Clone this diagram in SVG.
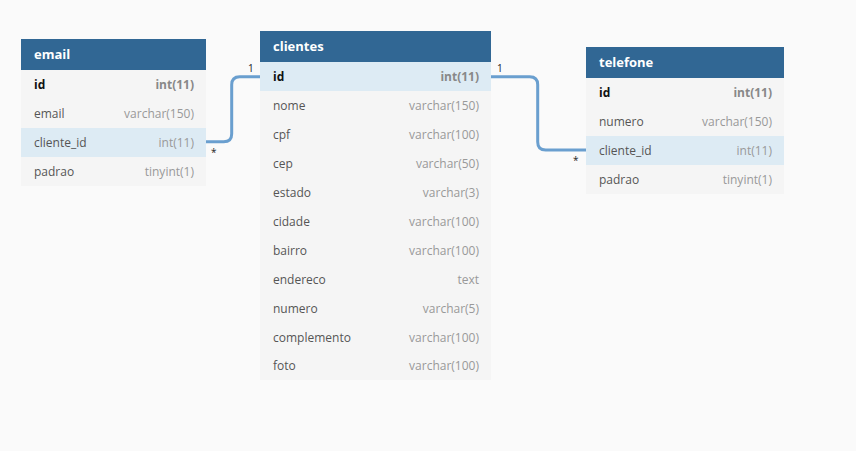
<svg xmlns="http://www.w3.org/2000/svg" width="856" height="451" viewBox="0 0 856 451">
<style>
.hdr{fill:#316794}
.row{fill:#f5f5f5}
.alt{fill:#f7f7f7}
.hl{fill:#ddebf4}
.title{font-family:"Open Sans","Noto Sans",sans-serif;font-size:13px;font-weight:bold;fill:#ffffff}
.f{font-family:"Open Sans","Noto Sans",sans-serif;font-size:12px;fill:#555555}
.fk{font-family:"Open Sans","Noto Sans",sans-serif;font-size:12px;font-weight:bold;fill:#111111}
.t{font-family:"Open Sans","Noto Sans",sans-serif;font-size:12px;fill:#999999;text-anchor:end}
.tk{font-family:"Open Sans","Noto Sans",sans-serif;font-size:12px;font-weight:bold;fill:#888888;text-anchor:end}
.conn{fill:none;stroke:#6a9fcf;stroke-width:3}
.lbl{font-family:"Open Sans","Noto Sans",sans-serif;font-size:10px;fill:#222222}
</style>
<rect width="856" height="451" fill="#fafafa"/>
<g id="connectors">
<path class="conn" d="M206 141.7 H223.7 Q231.7 141.7 231.7 133.7 V84.7 Q231.7 76.7 239.7 76.7 H260"/>
<path class="conn" d="M491 76.7 H529.7 Q537.7 76.7 537.7 84.7 V142 Q537.7 150 545.7 150 H586"/>
<text class="lbl" x="248" y="72">1</text>
<text class="lbl" x="211" y="156">*</text>
<text class="lbl" x="497" y="72">1</text>
<text class="lbl" x="573" y="164">*</text>
</g>
<g id="email">
<rect class="row" x="21" y="39" width="185" height="147"/>
<rect class="hdr" x="21" y="39" width="185" height="31"/>
<text class="title" x="34" y="59">email</text>
<rect class="hl" x="21" y="128" width="185" height="29"/>
<text class="fk" x="34" y="89">id</text><text class="tk" x="194" y="89">int(11)</text>
<text class="f" x="34" y="118">email</text><text class="t" x="194" y="118">varchar(150)</text>
<text class="f" x="34" y="147">cliente_id</text><text class="t" x="194" y="147">int(11)</text>
<text class="f" x="34" y="176">padrao</text><text class="t" x="194" y="176">tinyint(1)</text>
</g>
<g id="clientes">
<rect class="row" x="260" y="31" width="231" height="349"/>
<rect class="hdr" x="260" y="31" width="231" height="31"/>
<text class="title" x="273" y="51">clientes</text>
<rect class="hl" x="260" y="62" width="231" height="29"/>
<text class="fk" x="273" y="81">id</text><text class="tk" x="479" y="81">int(11)</text>
<text class="f" x="273" y="110">nome</text><text class="t" x="479" y="110">varchar(150)</text>
<text class="f" x="273" y="139">cpf</text><text class="t" x="479" y="139">varchar(100)</text>
<text class="f" x="273" y="168">cep</text><text class="t" x="479" y="168">varchar(50)</text>
<text class="f" x="273" y="197">estado</text><text class="t" x="479" y="197">varchar(3)</text>
<text class="f" x="273" y="226">cidade</text><text class="t" x="479" y="226">varchar(100)</text>
<text class="f" x="273" y="255">bairro</text><text class="t" x="479" y="255">varchar(100)</text>
<text class="f" x="273" y="284">endereco</text><text class="t" x="479" y="284">text</text>
<text class="f" x="273" y="313">numero</text><text class="t" x="479" y="313">varchar(5)</text>
<text class="f" x="273" y="342">complemento</text><text class="t" x="479" y="342">varchar(100)</text>
<text class="f" x="273" y="370">foto</text><text class="t" x="479" y="370">varchar(100)</text>
</g>
<g id="telefone">
<rect class="row" x="586" y="47" width="198" height="147"/>
<rect class="hdr" x="586" y="47" width="198" height="31"/>
<text class="title" x="599" y="67">telefone</text>
<rect class="hl" x="586" y="136" width="198" height="29"/>
<text class="fk" x="599" y="97">id</text><text class="tk" x="772" y="97">int(11)</text>
<text class="f" x="599" y="126">numero</text><text class="t" x="772" y="126">varchar(150)</text>
<text class="f" x="599" y="155">cliente_id</text><text class="t" x="772" y="155">int(11)</text>
<text class="f" x="599" y="184">padrao</text><text class="t" x="772" y="184">tinyint(1)</text>
</g>
</svg>
